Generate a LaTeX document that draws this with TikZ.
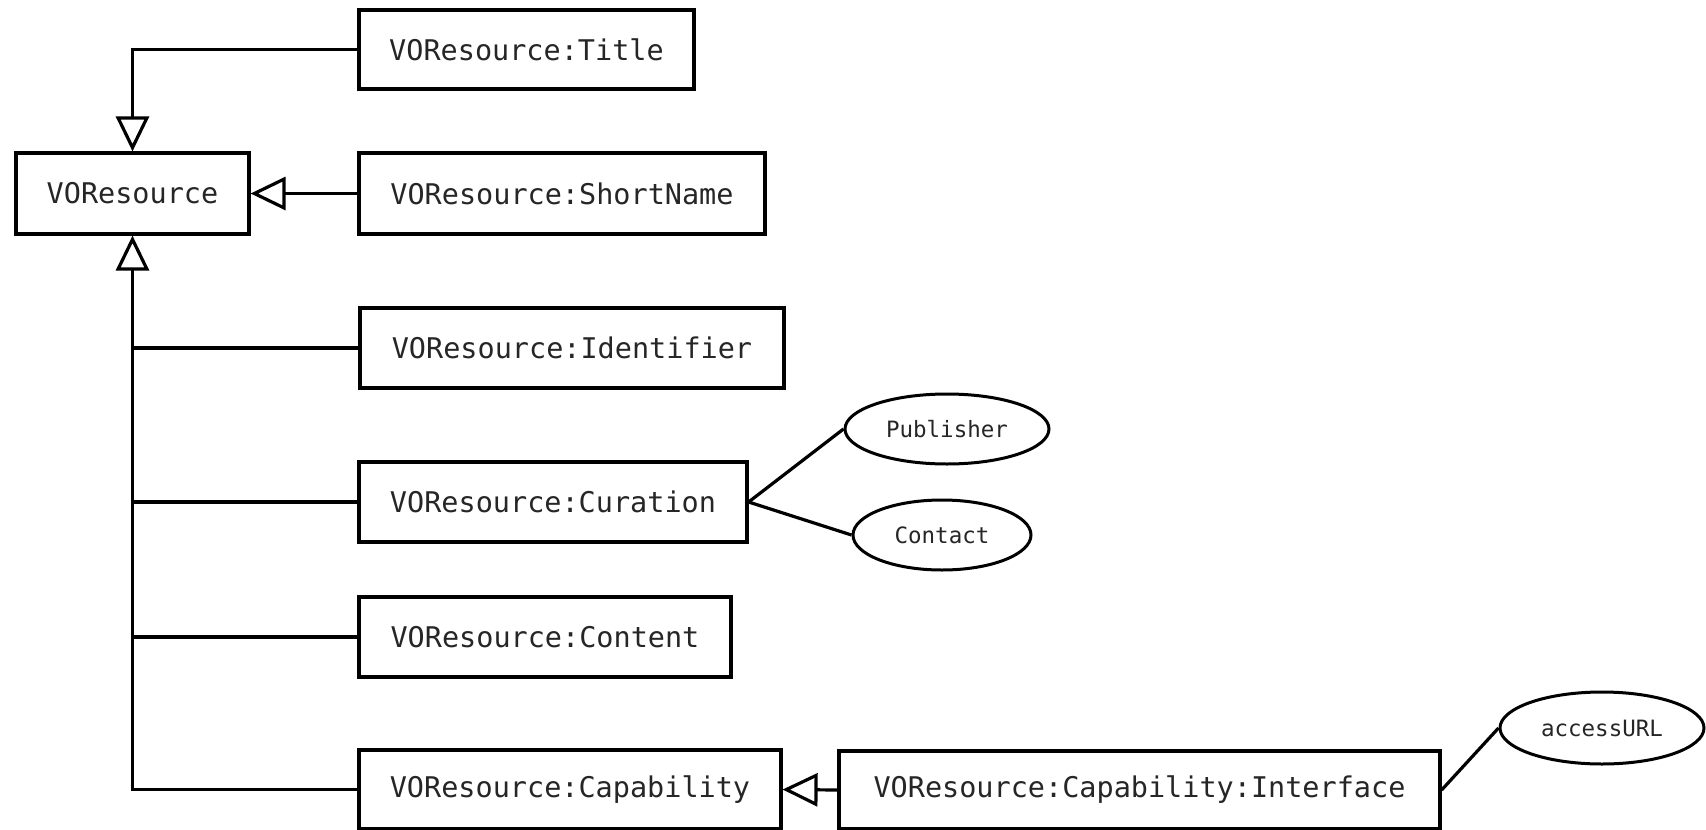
\documentclass[tikz,border=0pt]{standalone}
\usepackage{fontspec}
\setmonofont{DejaVu Sans Mono}
\usetikzlibrary{arrows.meta,shapes.geometric}
\tikzset{
  cls/.style={draw, line width=3.2pt, rectangle, inner sep=0pt,
    font=\ttfamily\fontsize{28.5}{34}\selectfont, text=black!85},
  attr/.style={draw, line width=3pt, ellipse, inner sep=0pt,
    font=\ttfamily\fontsize{22.5}{27}\selectfont, text=black!85},
  link/.style={line width=3.2pt},
  inherit/.style={link, -{Triangle[open, length=35pt, width=33pt, line width=3.2pt]}},
}
\begin{document}
\begin{tikzpicture}[x=1pt, y=-1pt]
  \useasboundingbox (0,0) rectangle (1706,830);
  \fill[white] (0,0) rectangle (1706,830);

  % classes
  \node[cls, minimum width=233pt, minimum height=81pt] (vo)  at (132.5,193.5) {VOResource};
  \node[cls, minimum width=335pt, minimum height=79pt] (ttl) at (526.5,49.5)  {VOResource:Title};
  \node[cls, minimum width=406pt, minimum height=81pt] (sn)  at (562,193.5)   {VOResource:ShortName};
  \node[cls, minimum width=424pt, minimum height=80pt] (idf) at (572,348)     {VOResource:Identifier};
  \node[cls, minimum width=388pt, minimum height=80pt] (cur) at (553,502)     {VOResource:Curation};
  \node[cls, minimum width=372pt, minimum height=80pt] (cnt) at (545,637)     {VOResource:Content};
  \node[cls, minimum width=422pt, minimum height=79pt] (cap) at (570,789.5)   {VOResource:Capability};
  \node[cls, minimum width=601pt, minimum height=78pt] (ifc) at (1139.5,790)  {VOResource:Capability:Interface};

  % attributes
  \node[attr, minimum width=204pt, minimum height=70pt] (pub) at (947,429)  {Publisher};
  \node[attr, minimum width=178pt, minimum height=70pt] (con) at (942,535)  {Contact};
  \node[attr, minimum width=204pt, minimum height=72pt] (url) at (1602,728) {accessURL};

  % generalisations
  \draw[inherit] (ttl.west) -| (vo.north);
  \draw[inherit] (sn.west) -- (vo.east);
  \draw[inherit] (cap.west) -| (vo.south);
  \draw[link] (idf.west) -- (idf.west -| vo.south);
  \draw[link] (cur.west) -- (cur.west -| vo.south);
  \draw[link] (cnt.west) -- (cnt.west -| vo.south);
  \draw[inherit] (ifc.west) -- (cap.east);

  % associations
  \draw[link] (cur.east) -- (pub.west);
  \draw[link] (cur.east) -- (con.west);
  \draw[link] (ifc.east) -- (url.west);
\end{tikzpicture}
\end{document}
